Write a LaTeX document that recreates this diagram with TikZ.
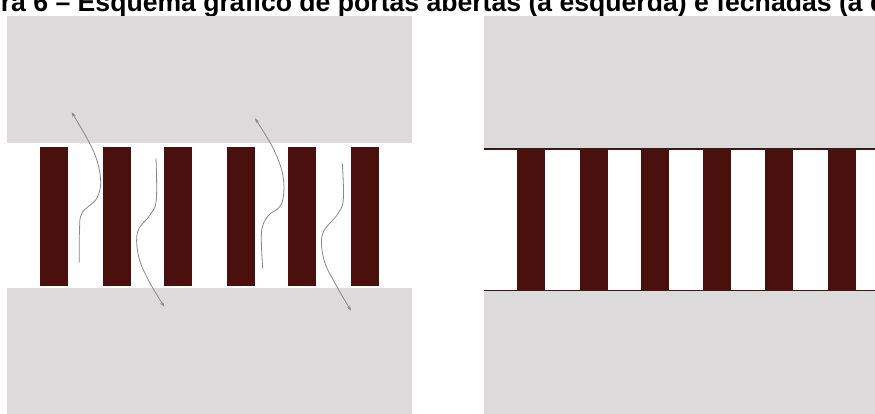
\documentclass[tikz,border=0pt]{standalone}
\usepackage{fontspec}
\setmainfont{Liberation Sans}
\usetikzlibrary{arrows.meta}
\definecolor{wallgray}{RGB}{221,218,219}
\definecolor{bardark}{RGB}{74,16,14}
\definecolor{linedark}{RGB}{58,24,20}
\definecolor{pathgray}{RGB}{135,135,135}
\tikzset{
  wall/.style={fill=wallgray, draw=none},
  portbar/.style={fill=bardark, draw=none},
  membline/.style={draw=linedark, line width=1.4pt},
  ionpath/.style={draw=pathgray, line width=0.8pt, -{Stealth[length=5pt,width=3.5pt]}},
  titletext/.style={font=\fontsize{26.6}{31}\selectfont\bfseries, anchor=base west, inner sep=0pt}
}
\begin{document}
\begin{tikzpicture}[x=1pt,y=-1pt]
\useasboundingbox (0,0) rectangle (875,414);
\clip (0,0) rectangle (875,414);
\fill[white] (0,0) rectangle (875,414);
% title (cut at the top, as in the reference)
\node[titletext] (title) at (-55.5,12) {Figura 6 – Esquema gráfico de portas abertas (à esquerda) e fechadas (à direita)};
% ---------- left panel: open ports ----------
\path[wall] (7,16) rectangle (412,143);
\path[wall] (7,288) rectangle (412,414);
\foreach \x [count=\i] in {40,103,164,227,288,351}{
  \path[portbar] (\x,147) rectangle ++(28,139);
}
% ion paths
\draw[ionpath] plot[smooth, tension=0.6] coordinates {(79.3,262.7) (79.5,230) (82,213) (97,198) (100.5,178) (93,150) (71.7,112.3)};
\draw[ionpath] plot[smooth, tension=0.6] coordinates {(156,158.3) (156.3,200) (150,215) (137.5,232) (139,258) (150,283) (164.3,306.7)};
\draw[ionpath] plot[smooth, tension=0.6] coordinates {(262.7,268.3) (261.5,232) (268,216) (281.5,204) (283.3,178) (274,150) (255,118.3)};
\draw[ionpath] plot[smooth, tension=0.6] coordinates {(342.3,163.3) (343.3,200) (337,215) (322.5,234) (324,260) (336,285) (351,310.7)};
% ---------- right panel: closed ports ----------
\path[wall] (484,16) rectangle (875,148);
\path[wall] (484,291) rectangle (875,414);
\foreach \x [count=\i] in {517,580,641,703,765,828}{
  \path[portbar] (\x,149) rectangle ++(28,142);
}
\draw[membline] (484,149) -- (875,149);
\draw[membline] (484,290.7) -- (875,290.7);
\end{tikzpicture}
\end{document}
